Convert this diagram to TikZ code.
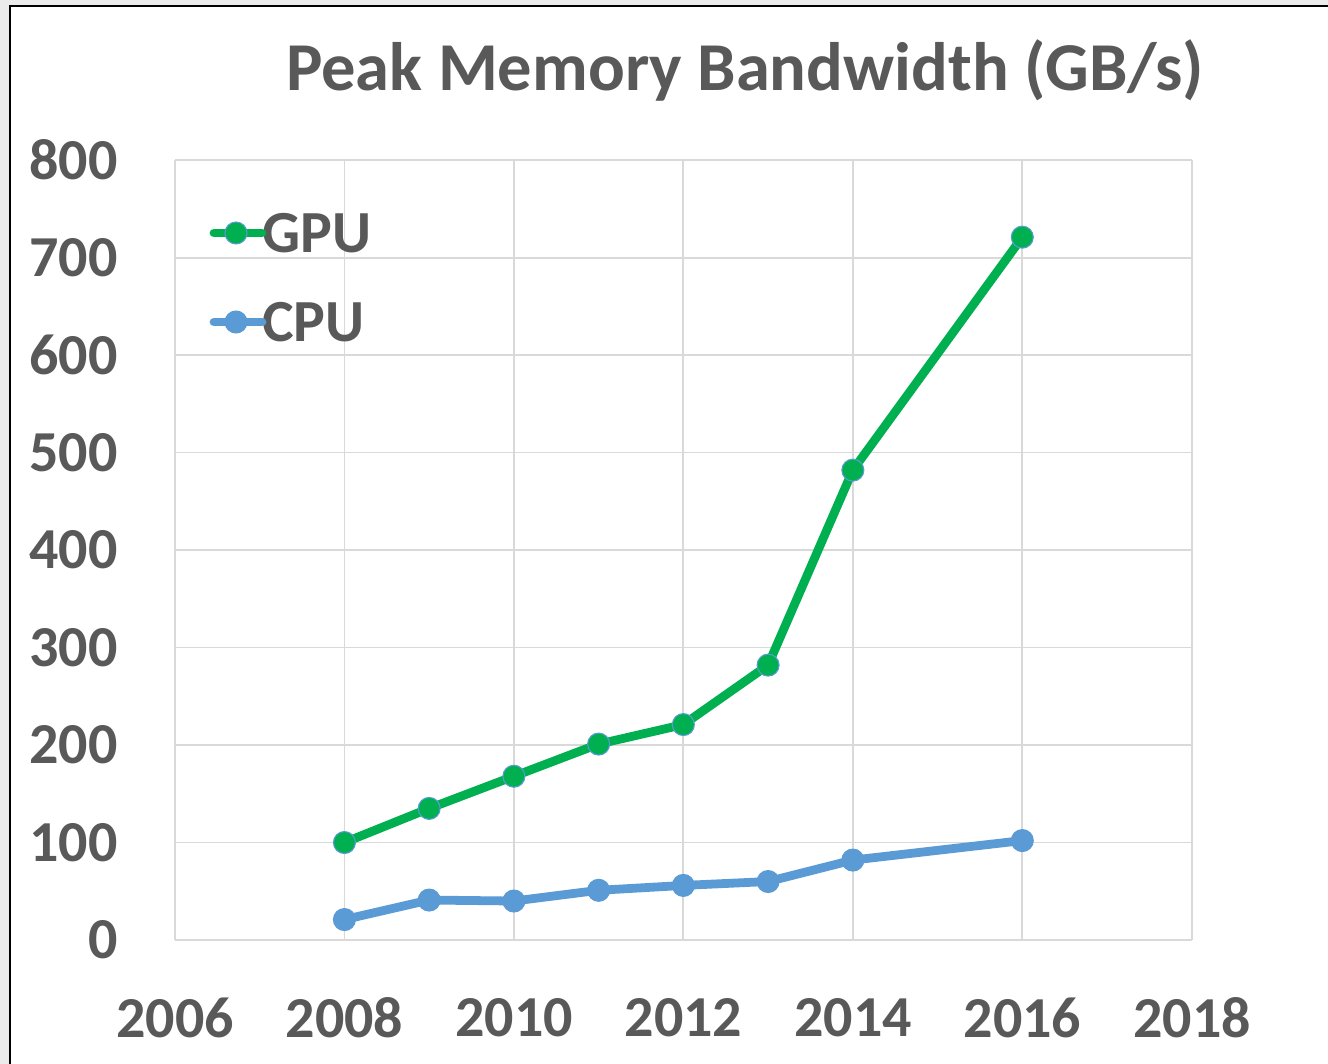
\documentclass[tikz,border=0pt]{standalone}
\usepackage{fontspec}
\setmainfont{Carlito}
\usetikzlibrary{positioning}
\definecolor{gpugreen}{HTML}{00B050}
\definecolor{cpublue}{HTML}{5B9BD5}
\definecolor{gridgrey}{HTML}{D9D9D9}
\definecolor{labelgrey}{HTML}{595959}
\definecolor{margingrey}{HTML}{EBEBEB}

\begin{document}
\begin{tikzpicture}[x=0.02cm,y=0.02cm,
                    gpu line/.style={gpugreen,line width=5pt,line join=round,line cap=round},
                    cpu line/.style={cpublue,line width=5pt,line join=round,line cap=round},
                    gpu dot/.style={circle,fill=gpugreen,draw=cpublue,line width=0.6pt,inner sep=0pt,minimum size=0.44cm},
                    cpu dot/.style={circle,fill=cpublue,draw=cpublue,line width=0.6pt,inner sep=0pt,minimum size=0.44cm},
                    tick label/.style={inner sep=0pt,text=labelgrey,font=\fontsize{33}{36}\selectfont\bfseries},
                    key label/.style={inner sep=0pt,text=labelgrey,font=\fontsize{34}{38}\selectfont\bfseries,anchor=west}]
  \useasboundingbox (0,0) rectangle (1328,1064);
  %frame%
  \fill[margingrey] (0,0) rectangle (1328,1064);
  \fill[white] (11,0) rectangle (1328,1058);
  \draw[line width=1.6pt] (10,0) -- (10,1058) -- (1328,1058);

  %title%
  \node[inner sep=0pt,text=labelgrey,font=\fontsize{39}{43}\selectfont\bfseries] (title) at (745,994)
    {Peak Memory Bandwidth (GB/s)};

  %axis labels%
  \foreach \v in {0,100,...,800}
    \node[tick label,anchor=east] (ylab\v) at (118,{124+0.975*\v}) {\v};
  \foreach \yr [count=\i from 0] in {2006,2008,...,2018}
    \node[tick label] (xlab\yr) at ({175+169.5*\i},46) {\yr};

  \begin{scope}[xshift=3.5cm,yshift=2.48cm,x=1.695cm,y=0.0195cm]
    %grid%
    \foreach \v in {0,100,...,800}
      \draw[gridgrey,line width=1pt] (0,\v) -- (12,\v);
    \foreach \k in {0,2,...,12}
      \draw[gridgrey,line width=1pt] (\k,0) -- (\k,800);

    %data%
    \foreach \yr/\val in {2008/100,2009/135,2010/168,2011/201,2012/221,2013/282,2014/482,2016/721}
      \coordinate (g\yr) at ({\yr-2006},\val);
    \foreach \yr/\val in {2008/21,2009/41,2010/40,2011/51,2012/56,2013/60,2014/82,2016/102}
      \coordinate (c\yr) at ({\yr-2006},\val);

    \draw[gpu line] (g2008) -- (g2009) -- (g2010) -- (g2011) -- (g2012) -- (g2013) -- (g2014) -- (g2016);
    \draw[cpu line] (c2008) -- (c2009) -- (c2010) -- (c2011) -- (c2012) -- (c2013) -- (c2014) -- (c2016);

    \foreach \yr in {2008,2009,2010,2011,2012,2013,2014,2016}
    {
      \node[gpu dot] (gd\yr) at (g\yr) {};
      \node[cpu dot] (cd\yr) at (c\yr) {};
    }
  \end{scope}

  %legend%
  \node[key label] (gpu key) at (262,831) {GPU};
  \node[key label] (cpu key) at (262,742) {CPU};
  \coordinate (gpu key start) at (214,831);
  \coordinate (cpu key start) at (214,742);
  \draw[gpu line] (gpu key start) -- (gpu key.west);
  \draw[cpu line] (cpu key start) -- (cpu key.west);
  \node[gpu dot] (gpu key dot) at (236,831) {};
  \node[cpu dot] (cpu key dot) at (236,742) {};
\end{tikzpicture}
\end{document}
